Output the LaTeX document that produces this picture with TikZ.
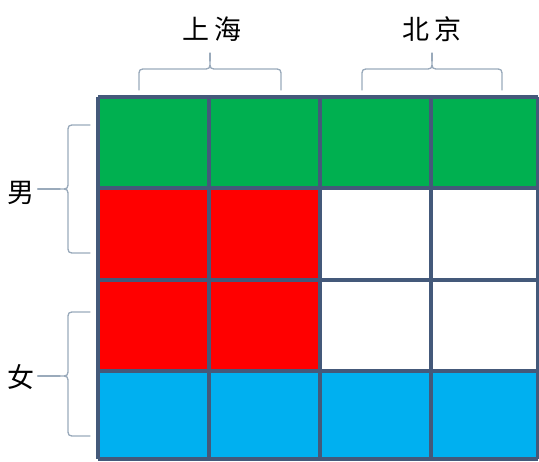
\documentclass[tikz,border=0pt]{standalone}
\usepackage{fontspec}
\newfontfamily\cjk{Noto Sans CJK SC}
\definecolor{gridc}{HTML}{44597A}
\definecolor{bracec}{HTML}{9AAABB}
\definecolor{cgreen}{HTML}{00B050}
\definecolor{cred}{HTML}{FF0000}
\definecolor{cblue}{HTML}{00B0F0}
\begin{document}
\begin{tikzpicture}[x=1pt,y=-1pt,
  lbl/.style={font=\cjk\fontsize{27}{27}\selectfont, inner sep=0pt},
  brc/.style={draw=bracec, line width=1.3pt, line join=round, line cap=round},
  gridline/.style={draw=gridc, line width=3.2pt}]
\useasboundingbox (0,0) rectangle (539,462);
% cells
\fill[cgreen] (98,97) rectangle (538,188);
\fill[cred] (98,188) rectangle (320,371);
\fill[white] (320,188) rectangle (538,371);
\fill[cblue] (98,371) rectangle (538,459);
% grid lines
\foreach \x in {98,209,320,431,538} \draw[gridline] (\x,97) -- (\x,459);
\foreach \y in {97,188,280,371,459} \draw[gridline] (98,\y) -- (538,\y);
% labels
\node[lbl] (sh) at (212,29) {上\hspace{6pt}海};
\node[lbl] (bj) at (432,29) {北\hspace{6pt}京};
\node[lbl] (nan) at (21,193) {男};
\node[lbl] (nv) at (21,377) {女};
% top braces
\draw[brc] (139,90) -- (139,77) .. controls (139,69) .. (147,69) -- (202,69)
  .. controls (210,69) .. (210,61) .. controls (210,69) .. (218,69) -- (273,69)
  .. controls (281,69) .. (281,77) -- (281,90);
\draw[brc] (210,61) -- (210,53);
\draw[brc] (362,90) -- (362,77) .. controls (362,69) .. (370,69) -- (424,69)
  .. controls (432,69) .. (432,61) .. controls (432,69) .. (440,69) -- (494,69)
  .. controls (502,69) .. (502,77) -- (502,90);
\draw[brc] (432,61) -- (432,53);
% left braces
\draw[brc] (90,125) -- (76,125) .. controls (68,125) .. (68,133) -- (68,181)
  .. controls (68,189) .. (60,189) .. controls (68,189) .. (68,197) -- (68,245)
  .. controls (68,253) .. (76,253) -- (90,253);
\draw[brc] (60,189) -- ([xshift=3pt]nan.east |- 0,189);
\draw[brc] (90,312) -- (76,312) .. controls (68,312) .. (68,320) -- (68,368)
  .. controls (68,376) .. (60,376) .. controls (68,376) .. (68,384) -- (68,428)
  .. controls (68,436) .. (76,436) -- (90,436);
\draw[brc] (60,376) -- ([xshift=3pt]nv.east |- 0,376);
\end{tikzpicture}
\end{document}
